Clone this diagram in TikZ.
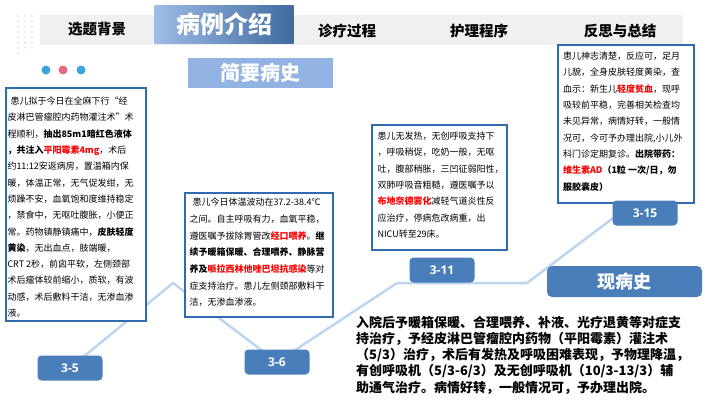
\documentclass[tikz,border=0pt]{standalone}
\usepackage{fontspec}
\setmainfont{Noto Sans CJK SC}
\newfontfamily\tagfont{Open Sans}
\definecolor{boxblue}{HTML}{2F6DAE}
\definecolor{tagblue}{HTML}{4A7EBB}
\definecolor{lineblue}{HTML}{BCD6EE}
\definecolor{bandgray}{HTML}{F0F0F0}
\definecolor{dotblue}{HTML}{3DA5DB}
\definecolor{dotpink}{HTML}{E66A85}
\definecolor{headblue}{HTML}{93B4E3}
\newcommand{\hl}[1]{\textbf{\color{red}#1}}
\tikzset{
  card/.style={draw=boxblue, line width=1.4pt, fill=white, inner sep=0pt},
  cardtext/.style={anchor=north west, align=left, inner sep=0pt, font=\fontsize{9}{16.3}\selectfont},
  datetag/.style={fill=tagblue, rounded corners=4pt, text=white, minimum width=65pt, minimum height=25pt, inner sep=0pt, font=\tagfont\bfseries\fontsize{12}{12}\selectfont},
  tab/.style={inner sep=0pt, font=\bfseries\fontsize{14.5}{14.5}\selectfont},
  dot/.style={circle, minimum size=9pt, inner sep=0pt},
  timeline/.style={lineblue, line width=2.5pt}
}
\begin{document}
\begin{tikzpicture}[x=1pt, y=-1pt]
  \useasboundingbox[fill=white] (0,0) rectangle (720,405);

  \foreach \r in {0,...,6}
    \foreach \c in {0,1,2}
      \fill[gray!35] (18+7*\c,16+5.3*\r) circle (0.8pt);
  \fill[gray!35] (18,53) circle (0.8pt);

  \fill[bandgray] (40,15) rectangle (683,45);
  \node[tab] (tabbg) at (97,29) {选题背景};
  \node[left color=headblue!90!white, right color=tagblue!85!black, minimum width=139pt, minimum height=38pt, inner sep=0pt, text=white, font=\bfseries\fontsize{24}{24}\selectfont] (tabcase) at (224,24) {病例介绍};
  \node[tab] (tabtreat) at (347,31) {诊疗过程};
  \node[tab] (tabnurse) at (479,31) {护理程序};
  \node[tab] (tabsum) at (620,31) {反思与总结};

  \node[dot, fill=dotblue] (dot1) at (46,70) {};
  \node[dot, fill=dotpink] (dot2) at (63,70) {};
  \node[dot, fill=dotblue] (dot3) at (81,70) {};

  \node[fill=headblue, minimum width=145pt, minimum height=30pt, inner sep=0pt, text=white, font=\bfseries\fontsize{20}{20}\selectfont] (brief) at (260.5,73) {简要病史};

  \coordinate (c35) at (70,368);
  \coordinate (c36) at (277,362);
  \coordinate (c311) at (442,270);
  \coordinate (c315) at (645,213);
  \coordinate (k1) at (173,283);
  \coordinate (k2) at (397,283);
  \coordinate (k3) at (527,283);
  \coordinate (k4) at (690,160);
  \draw[timeline] (c35) -- (k1) -- (c36) -- (k2) -- (k3) -- (k4);

  \node[card, minimum width=140pt, minimum height=233pt] (card35) at (76,204.5) {};
  \node[cardtext] (text35) at ([shift={(2,9.5)}]card35.north west) {\hspace{3pt}患儿拟于今日在全麻下行“经\\
皮淋巴管瘤腔内药物灌注术”术\\
程顺利，\textbf{抽出85m1暗红色液体}\\
\textbf{，共注入}\hl{平阳霉素4mg}，术后\\
约11:12安返病房，置温箱内保\\
暖，体温正常，无气促发绀，无\\
烦躁不安，血氧饱和度维持稳定\\
，禁食中，无呕吐腹胀，小便正\\
常。药物镇静镇痛中，\textbf{皮肤轻度}\\
\textbf{黄染}，无出血点，肢端暖，\\
CRT 2秒，前囟平软，左侧颈部\\
术后瘤体较前缩小，质软，有波\\
动感，术后敷料干洁，无渗血渗\\
液。};

  \node[card, minimum width=148pt, minimum height=124pt] (card36) at (259,255) {};
  \node[cardtext, font=\fontsize{9}{16.7}\selectfont] (text36) at ([shift={(5,5.5)}]card36.north west) {\hspace{3pt}患儿今日体温波动在37.2-38.4℃\\
之间。自主呼吸有力，血氧平稳，\\
遵医嘱予拔除胃管改\hl{经口喂养}。\textbf{继}\\
\textbf{续予暖箱保暖、合理喂养、静脉营}\\
\textbf{养及}\hl{哌拉西林他唑巴坦抗感染}等对\\
症支持治疗。患儿左侧颈部敷料干\\
洁，无渗血渗液。};

  \node[card, minimum width=135pt, minimum height=125pt] (card311) at (439.5,187.5) {};
  \node[cardtext] (text311) at ([shift={(6,7.5)}]card311.north west) {患儿无发热，无创呼吸支持下\\
，呼吸稍促，吃奶一般，无呕\\
吐，腹部稍胀，三凹征弱阳性，\\
双肺呼吸音粗糙，遵医嘱予以\\
\hl{布地奈德雾化}减轻气道炎性反\\
应治疗，停病危改病重，出\\
NICU转至29床。};

  \node[card, minimum width=136pt, minimum height=158pt] (card315) at (626,124) {};
  \node[cardtext] (text315) at ([shift={(5.5,7.5)}]card315.north west) {患儿神志清楚，反应可，足月\\
儿貌，全身皮肤轻度黄染，查\\
血示：新生儿\hl{轻度贫血}，现呼\\
吸较前平稳，完善相关检查均\\
未见异常，病情好转，一般情\\
况可，今可予办理出院,小儿外\\
科门诊定期复诊。\textbf{出院带药：}\\
\hl{维生素AD}\textbf{（1粒 一次/日，勿}\\
\textbf{服胶囊皮）}};

  \node[datetag] (d35) at (c35) {3-5};
  \node[datetag] (d36) at (c36) {3-6};
  \node[datetag] (d311) at (c311) {3-11};
  \node[datetag] (d315) at (c315) {3-15};

  \node[fill=tagblue, rounded corners=5pt, minimum width=155pt, minimum height=31pt, inner sep=0pt, text=white, font=\bfseries\fontsize{18}{18}\selectfont] (now) at (624.5,281.5) {现病史};
  \node[anchor=north west, align=left, inner sep=0pt, font=\bfseries\fontsize{13}{16.25}\selectfont] (story) at (356,315.6) {入院后予暖箱保暖、合理喂养、补液、光疗退黄等对症支\\
持治疗，予经皮淋巴管瘤腔内药物（平阳霉素）灌注术\\
（5/3）治疗，术后有发热及呼吸困难表现，予物理降温，\\
有创呼吸机（5/3-6/3）及无创呼吸机（10/3-13/3）辅\\
助通气治疗。病情好转，一般情况可，予办理出院。};
\end{tikzpicture}
\end{document}
